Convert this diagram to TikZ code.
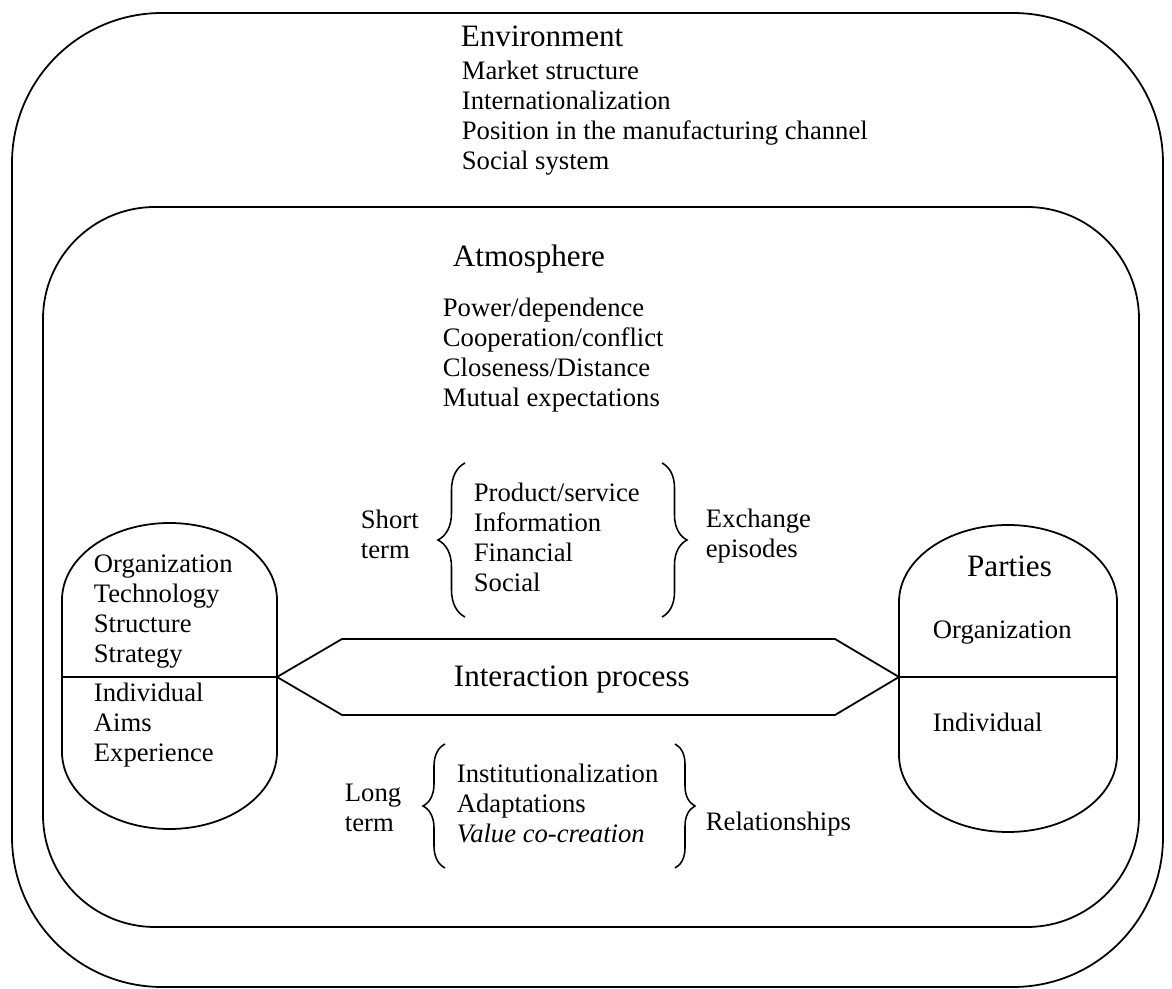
\documentclass[tikz,border=0pt]{standalone}
\usepackage{fontspec}
\setmainfont{Liberation Serif}
\usetikzlibrary{decorations.pathreplacing}
\tikzset{
  txt/.style={anchor=base west, inner sep=0pt, align=left, font=\fontsize{12}{13.5}\selectfont},
  ttl/.style={anchor=base west, inner sep=0pt, font=\fontsize{14}{16}\selectfont},
  brc/.style={decorate, decoration={brace, amplitude=#1}, line width=0.7pt}
}
\begin{document}
\begin{tikzpicture}[x=0.45pt, y=0.45pt, line width=0.8pt]
		\useasboundingbox (0,0) rectangle (1172,-989);
		\draw[rounded corners=67.5pt] (12,-13) rectangle (1163,-987);
		\draw[rounded corners=50.4pt] (43,-207) rectangle (1139,-927);
		\draw (62,-600) arc[start angle=180, end angle=0, x radius=107.5, y radius=77] -- (277,-752)
			arc[start angle=0, end angle=-180, x radius=107.5, y radius=77] -- cycle;
		\draw (899,-602) arc[start angle=180, end angle=0, x radius=109, y radius=77] -- (1117,-755)
			arc[start angle=0, end angle=-180, x radius=109, y radius=77] -- cycle;
		\coordinate (lpw) at (62,-677);
		\coordinate (lpe) at (277,-677);
		\coordinate (rpw) at (899,-677);
		\coordinate (rpe) at (1117,-677);
		\draw (lpw) -- (lpe);
		\draw (rpw) -- (rpe);
		\draw (lpe) -- (342,-639) -- (835,-639) -- (rpw) -- (835,-715) -- (342,-715) -- cycle;
		\node[ttl] (env) at (460,-47) {Environment};
		\node[txt] (envlist) at (461,-170) {Market structure\\Internationalization\\Position in the manufacturing channel\\Social system};
		\node[ttl] (atm) at (452,-267) {Atmosphere};
		\node[txt] (atmlist) at (442,-407) {Power/dependence\\Cooperation/conflict\\Closeness/Distance\\Mutual expectations};
		\node[txt] (short) at (360,-559) {Short\\term};
		\node[txt] (epi) at (473,-592) {Product/service\\Information\\Financial\\Social};
		\node[txt] (exch) at (705,-558) {Exchange\\episodes};
		\draw[brc=12.15pt] (465,-617) -- (465,-463);
		\draw[brc=11.25pt] (662,-463) -- (662,-617);
		\node[txt] (lorg) at (93,-663) {Organization\\Technology\\Structure\\Strategy};
		\node[txt] (lind) at (93,-762) {Individual\\Aims\\Experience};
		\node[ttl, anchor=base] (parties) at (1009.5,-577) {Parties};
		\node[txt] (rorg) at (932,-639) {Organization};
		\node[txt] (rind) at (932,-732) {Individual};
		\node[ttl] (inter) at (453,-687) {Interaction process};
		\node[txt] (long) at (344,-832) {Long\\term};
		\node[txt] (rel) at (456,-843) {Institutionalization\\Adaptations\\\textit{Value co-creation}};
		\node[txt] (relship) at (705,-831) {Relationships};
		\draw[brc=9.9pt] (445,-868) -- (445,-744);
		\draw[brc=9pt] (675,-744) -- (675,-868);
	\end{tikzpicture}
\end{document}
